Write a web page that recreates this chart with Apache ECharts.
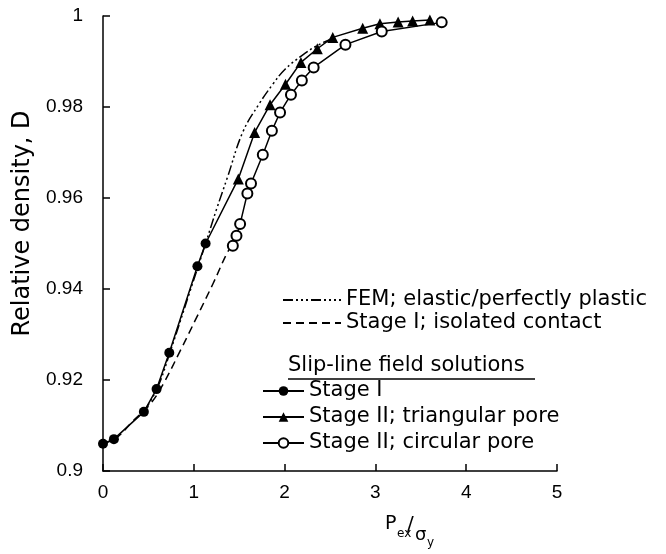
<!DOCTYPE html>
<html>
<head>
<meta charset="utf-8">
<title>Relative density D vs Pex/σy</title>
<script src="https://cdn.jsdelivr.net/npm/echarts@6.0.0/dist/echarts.min.js"></script>
<style>
    html, body { margin: 0; padding: 0; background: #fff; }
    #chart { width: 666px; height: 554px; }
</style>
</head>
<body>
<div id="chart"></div>
<script>
(function () {
    'use strict';

    var FONT = '"DejaVu Sans", sans-serif';
    var NUM_FONT = '"Liberation Sans", sans-serif';

    // curve/point values: [Pex/σy, D]
    var femCurve = [
        [0.45, 0.913], [0.6, 0.9183], [0.75, 0.9268], [0.95, 0.939], [1.13, 0.950],
        [1.25, 0.9575], [1.37, 0.9645], [1.54, 0.9745], [1.72, 0.9807], [1.87, 0.985],
        [2.0, 0.9882], [2.19, 0.9913], [2.35, 0.9934], [2.55, 0.9953]
    ];
    var isolatedCurve = [
        [0, 0.906], [0.15, 0.9073], [0.33, 0.911], [0.52, 0.9147], [0.66, 0.919],
        [0.85, 0.9264], [1.03, 0.9337], [1.21, 0.9411], [1.38, 0.9484], [1.43, 0.9495]
    ];
    var stage1Pts = [
        [0, 0.906], [0.12, 0.907], [0.45, 0.913], [0.59, 0.918], [0.73, 0.926],
        [1.04, 0.945], [1.13, 0.950]
    ];
    // where the triangular-pore line leaves the Stage I curve (no marker)
    var triangularStart = [1.13, 0.950];
    var triangularPts = [
        [1.49, 0.9642], [1.67, 0.9744], [1.84, 0.9805], [2.01, 0.985], [2.18, 0.9898],
        [2.36, 0.9928], [2.53, 0.9953], [2.86, 0.9973], [3.05, 0.9983], [3.25, 0.9987],
        [3.41, 0.9989], [3.60, 0.9991]
    ];
    var circularPts = [
        [1.43, 0.9495], [1.47, 0.9517], [1.51, 0.9543], [1.59, 0.961], [1.63, 0.9632],
        [1.76, 0.9695], [1.86, 0.9748], [1.95, 0.9788], [2.07, 0.9827], [2.19, 0.9858],
        [2.32, 0.9887], [2.67, 0.9937], [3.07, 0.9966], [3.73, 0.9986]
    ];

    var names = [
        'FEM; elastic/perfectly plastic',
        'Stage I; isolated contact',
        'Stage I',
        'Stage II; triangular pore',
        'Stage II; circular pore'
    ];

    var legendText = { fontFamily: FONT, fontSize: 21, color: '#000', lineHeight: 22 };

    var chart = echarts.init(document.getElementById('chart'), null, { renderer: 'canvas' });

    chart.setOption({
        animation: false,
        backgroundColor: '#fff',
        grid: { left: 103, right: 109, top: 16, bottom: 83 },
        xAxis: {
            type: 'value',
            min: 0, max: 5, interval: 1,
            axisLine: { lineStyle: { color: '#000', width: 1.5 } },
            axisTick: { inside: true, length: 7, lineStyle: { color: '#000', width: 1.5 } },
            axisLabel: { fontFamily: NUM_FONT, fontSize: 19, color: '#000', margin: 12 },
            splitLine: { show: false }
        },
        yAxis: {
            type: 'value',
            min: 0.9, max: 1, interval: 0.02,
            name: 'Relative density, D',
            nameLocation: 'middle',
            nameGap: 68,
            nameTextStyle: { fontFamily: FONT, fontSize: 24, color: '#000', padding: [0, 0, 0, 40] },
            axisLine: { lineStyle: { color: '#000', width: 1.5 } },
            axisTick: { inside: true, length: 7, lineStyle: { color: '#000', width: 1.5 } },
            axisLabel: {
                fontFamily: NUM_FONT, fontSize: 19, color: '#000', margin: 20,
                formatter: function (v) { return String(+v.toFixed(2)); }
            },
            splitLine: { show: false }
        },
        legend: [{
            data: names.slice(0, 2),
            orient: 'vertical',
            left: 282, top: 289,
            padding: 0,
            itemWidth: 58, itemHeight: 12, itemGap: 1,
            selectedMode: false,
            itemStyle: { opacity: 0 },
            textStyle: legendText
        }, {
            data: names.slice(2),
            orient: 'vertical',
            left: 262, top: 380,
            padding: 0,
            itemWidth: 41, itemHeight: 12, itemGap: 4,
            selectedMode: false,
            textStyle: legendText
        }],
        graphic: [
            {
                type: 'text', left: 288, top: 355,
                style: { text: 'Slip-line field solutions', font: '21px ' + FONT, fill: '#000' }
            },
            {
                type: 'line', shape: { x1: 288, y1: 379, x2: 535, y2: 379 },
                style: { stroke: '#000', lineWidth: 1.5 }
            },
            // x axis title  Pex / σy
            { type: 'text', left: 385, top: 515, style: { text: 'P', font: '19px ' + FONT, fill: '#000' } },
            { type: 'text', left: 397, top: 528, style: { text: 'ex', font: '12px ' + FONT, fill: '#000' } },
            { type: 'text', left: 407, top: 515, style: { text: '/', font: '20px ' + FONT, fill: '#000' } },
            { type: 'text', left: 415, top: 526, style: { text: 'σ', font: '18px ' + FONT, fill: '#000' } },
            { type: 'text', left: 427, top: 537, style: { text: 'y', font: '12px ' + FONT, fill: '#000' } }
        ],
        series: [{
            name: names[0],
            type: 'line',
            data: femCurve,
            smooth: 0.4,
            symbol: 'none',
            lineStyle: { color: '#000', width: 1.5, type: [10, 3, 2, 3, 2, 3, 2, 3] },
            z: 2
        }, {
            name: names[1],
            type: 'line',
            data: isolatedCurve,
            smooth: 0.4,
            symbol: 'none',
            lineStyle: { color: '#000', width: 1.5, type: [8, 5] },
            z: 2
        }, {
            name: names[2],
            type: 'line',
            data: stage1Pts,
            symbol: 'circle',
            symbolSize: 10,
            itemStyle: { color: '#000' },
            lineStyle: { color: '#000', width: 1.5 },
            z: 4
        }, {
            name: names[3],
            type: 'line',
            data: [{ value: triangularStart, symbol: 'none' }].concat(triangularPts),
            symbol: 'triangle',
            symbolSize: 11,
            itemStyle: { color: '#000' },
            lineStyle: { color: '#000', width: 1.5 },
            z: 3
        }, {
            name: names[4],
            type: 'line',
            data: circularPts,
            symbol: 'emptyCircle',
            symbolSize: 10,
            itemStyle: { color: '#000', borderWidth: 1.5 },
            lineStyle: { color: '#000', width: 1.5 },
            z: 5
        }]
    });

    window.addEventListener('resize', function () { chart.resize(); });
})();
</script>
</body>
</html>
